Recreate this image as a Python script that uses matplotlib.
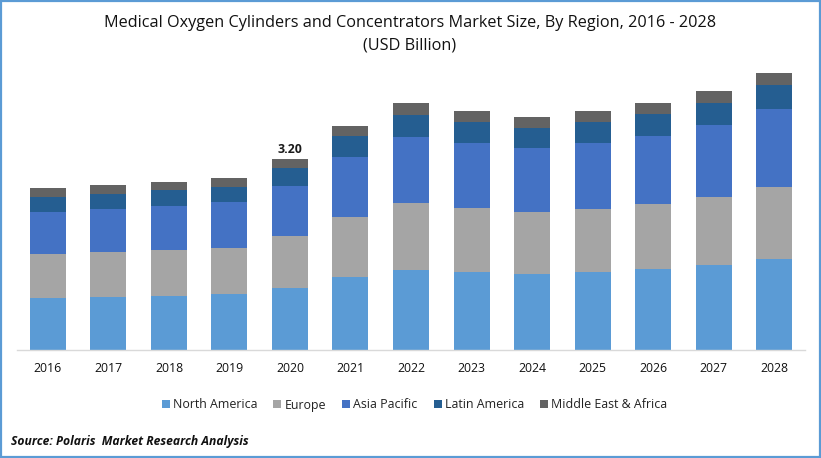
import numpy as np
import matplotlib.pyplot as plt
from matplotlib.patches import Rectangle

plt.rcParams['font.family'] = ['Open Sans', 'DejaVu Sans']

years = ['2016', '2017', '2018', '2019', '2020', '2021', '2022', '2023', '2024', '2025', '2026', '2027', '2028']
north_america = [0.87, 0.89, 0.90, 0.94, 1.04, 1.22, 1.34, 1.31, 1.27, 1.31, 1.36, 1.42, 1.52]
europe = [0.74, 0.75, 0.77, 0.77, 0.87, 1.01, 1.12, 1.07, 1.04, 1.06, 1.09, 1.14, 1.21]
asia_pacific = [0.70, 0.72, 0.74, 0.77, 0.84, 1.01, 1.11, 1.09, 1.07, 1.10, 1.14, 1.21, 1.31]
latin_america = [0.25, 0.25, 0.27, 0.25, 0.30, 0.34, 0.37, 0.35, 0.34, 0.35, 0.37, 0.37, 0.40]
middle_east = [0.15, 0.15, 0.13, 0.15, 0.15, 0.18, 0.20, 0.18, 0.18, 0.18, 0.18, 0.20, 0.20]
bar_labels = ['', '', '', '', '3.20', '', '', '', '', '', '', '', '']

series = [
    ('North America', north_america, '#5B9BD5'),
    ('Europe', europe, '#A5A5A5'),
    ('Asia Pacific', asia_pacific, '#4472C4'),
    ('Latin America', latin_america, '#255E91'),
    ('Middle East & Africa', middle_east, '#636363'),
]

W, H = 821, 458
fig = plt.figure(figsize=(W / 100, H / 100), dpi=100)
ax = fig.add_axes([17 / W, (H - 350) / H, 788 / W, 290 / H])

x = np.arange(len(years))
bottom = np.zeros(len(years))
for name, values, color in series:
    bars = ax.bar(x, values, width=0.595, bottom=bottom, color=color, label=name)
    bottom += np.array(values)

# only 2020 has a value on top
ax.bar_label(bars, labels=bar_labels, padding=2.5, fontsize=8.9, fontweight='bold', color='#1a1a1a')

ax.set_xlim(-0.512, 12.512)
ax.set_ylim(0, 4.86)
ax.set_xticks(x, years)
ax.set_yticks([])
ax.tick_params(axis='x', length=0, pad=9, labelsize=8.8, labelcolor='#111111')
for side in ['top', 'left', 'right']:
    ax.spines[side].set_visible(False)
ax.spines['bottom'].set_color('#D9D9D9')
ax.spines['bottom'].set_linewidth(1)

fig.text(410.5 / W, 1 - 23 / H, 'Medical Oxygen Cylinders and Concentrators Market Size, By Region, 2016 - 2028',
         ha='center', va='center', fontsize=11.7, color='#111111')
fig.text(410 / W, 1 - 46 / H, '(USD Billion)', ha='center', va='center', fontsize=11.7, color='#111111')

fig.legend(loc='center', bbox_to_anchor=(414.5 / W, 1 - 405 / H), ncol=5, frameon=False,
           fontsize=8.9, handlelength=0.65, handleheight=0.65, handletextpad=0.25, columnspacing=1.3,
           labelcolor='#222222')

fig.text(11 / W, 1 - 441 / H, 'Source: Polaris  Market Research Analysis', ha='left', va='center',
         fontsize=8.75, fontweight='bold', fontstyle='italic', color='#111111')

# blue frame around the picture
fig.add_artist(Rectangle((1 / W, 1 / H), (W - 2) / W, (H - 2) / H, transform=fig.transFigure,
                         fill=False, edgecolor='#5B9BD5', linewidth=1.6))

fig.savefig('out.png', dpi=100)
